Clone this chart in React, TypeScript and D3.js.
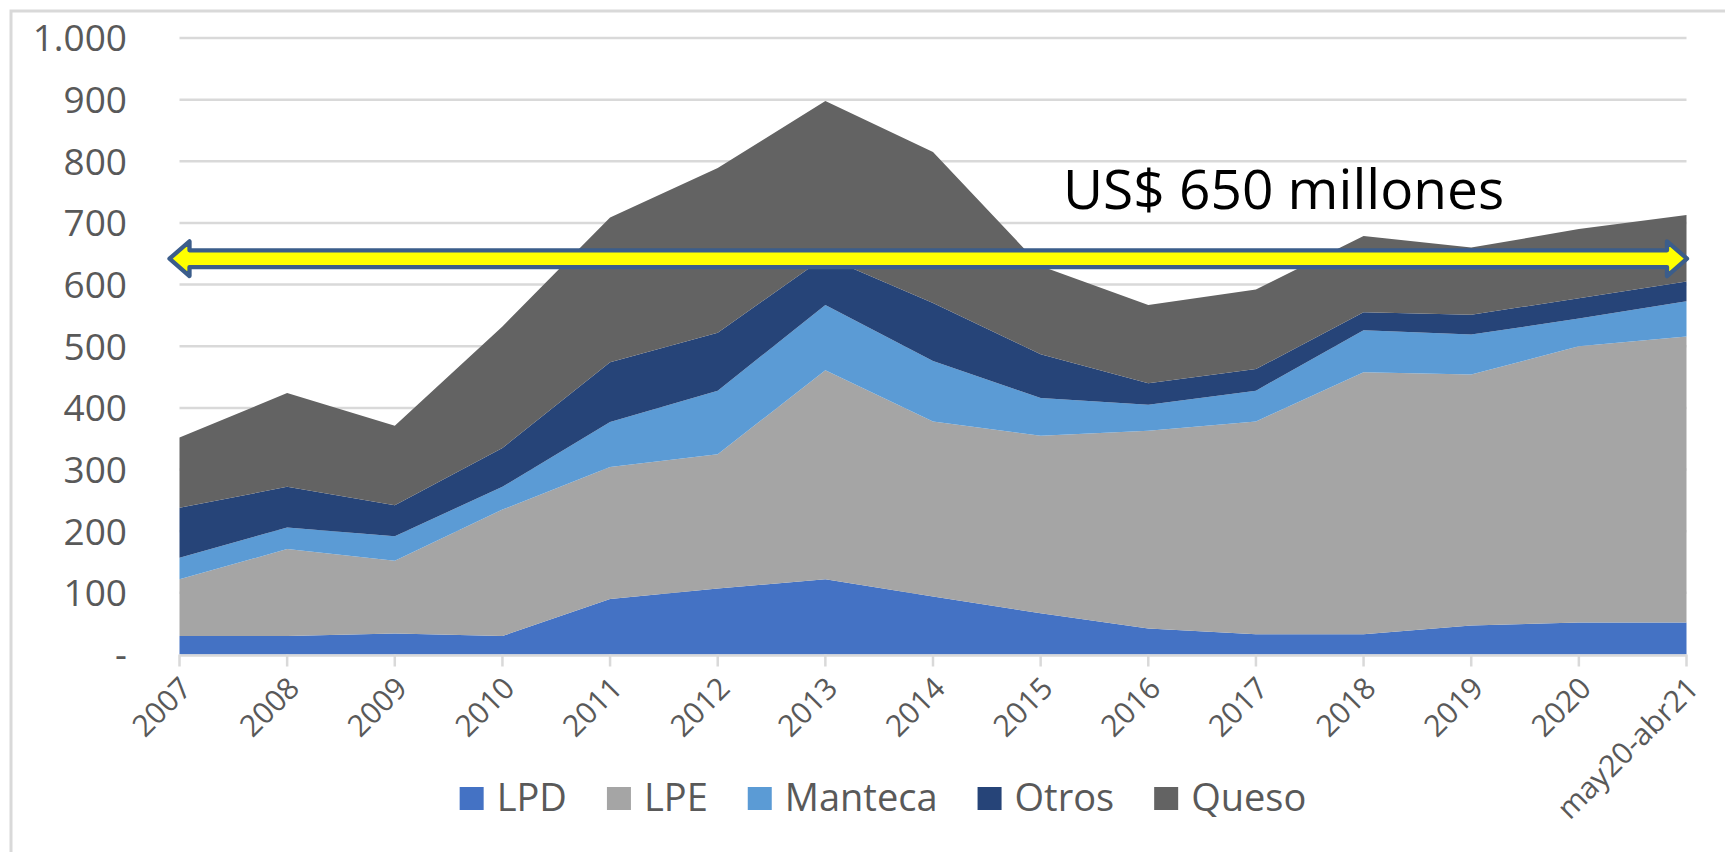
import React, { useEffect, useRef } from 'react';
import * as d3 from 'd3';

// categories (x axis)
const categories = [
  '2007', '2008', '2009', '2010', '2011', '2012', '2013', '2014',
  '2015', '2016', '2017', '2018', '2019', '2020', 'may20-abr21',
];

// series values, US$ millones (stacked)
const seriesNames = ['LPD', 'LPE', 'Manteca', 'Otros', 'Queso'];
const lpd = [30, 30, 34, 30, 90, 107, 122, 94, 67, 42, 33, 33, 47, 52, 52];
const lpe = [92, 141, 118, 205, 214, 218, 339, 284, 288, 321, 345, 425, 407, 448, 464];
const manteca = [35, 35, 40, 37, 73, 103, 106, 98, 61, 42, 50, 68, 65, 45, 57];
const otros = [81, 66, 50, 63, 97, 94, 78, 94, 71, 35, 35, 29, 32, 33, 32];
const queso = [114, 152, 129, 197, 235, 267, 253, 245, 143, 127, 129, 124, 109, 112, 108];
const colors = ['#4472c4', '#a5a5a5', '#5b9bd5', '#264478', '#636363'];

const yTicks = [0, 100, 200, 300, 400, 500, 600, 700, 800, 900, 1000];

// annotation
const annotationValue = 642;
const annotationText = 'US$ 650 millones';

const FONT = '"Open Sans", sans-serif';

export default function App() {
  const ref = useRef<SVGSVGElement>(null);

  useEffect(() => {
    const svg = d3.select(ref.current);
    svg.selectAll('*').remove();

    const x = d3.scalePoint<string>().domain(categories).range([179.5, 1686.5]);
    const y = d3.scaleLinear().domain([0, 1000]).range([654.5, 38]);
    const fmt = d3.formatLocale({ decimal: ',', thousands: '.', grouping: [3], currency: ['', ''] }).format(',');

    // outer frame
    svg.append('rect')
      .attr('x', 11).attr('y', 11)
      .attr('width', 1800).attr('height', 900)
      .attr('fill', 'none')
      .attr('stroke', '#d9d9d9')
      .attr('stroke-width', 3);

    // gridlines
    svg.append('g')
      .selectAll('line')
      .data(yTicks.filter(t => t > 0))
      .enter()
      .append('line')
      .attr('x1', x(categories[0])!)
      .attr('x2', x(categories[categories.length - 1])!)
      .attr('y1', d => y(d))
      .attr('y2', d => y(d))
      .attr('stroke', '#d9d9d9')
      .attr('stroke-width', 2.5);

    // y labels
    svg.append('g')
      .selectAll('text')
      .data(yTicks)
      .enter()
      .append('text')
      .attr('x', 127)
      .attr('y', d => y(d) + 13.3)
      .attr('text-anchor', 'end')
      .attr('font-family', FONT)
      .attr('font-size', 37)
      .attr('fill', '#595959')
      .text(d => (d === 0 ? '-' : fmt(d)));

    // stacked areas
    const rows = categories.map((c, i) => ({
      cat: c,
      LPD: lpd[i], LPE: lpe[i], Manteca: manteca[i], Otros: otros[i], Queso: queso[i],
    }));
    const stacked = d3.stack<any>().keys(seriesNames)(rows);
    const area = d3.area<any>()
      .x(d => x(d.data.cat)!)
      .y0(d => y(d[0]))
      .y1(d => y(d[1]));
    svg.append('g')
      .selectAll('path')
      .data(stacked)
      .enter()
      .append('path')
      .attr('fill', (d, i) => colors[i])
      .attr('d', area as any);

    // x axis line + ticks
    const y0 = y(0);
    svg.append('line')
      .attr('x1', x(categories[0])!)
      .attr('x2', x(categories[categories.length - 1])!)
      .attr('y1', y0 + 1).attr('y2', y0 + 1)
      .attr('stroke', '#d9d9d9')
      .attr('stroke-width', 2.5);
    svg.append('g')
      .selectAll('line')
      .data(categories)
      .enter()
      .append('line')
      .attr('x1', d => x(d)!)
      .attr('x2', d => x(d)!)
      .attr('y1', y0)
      .attr('y2', y0 + 12)
      .attr('stroke', '#d9d9d9')
      .attr('stroke-width', 2.5);

    // x labels, rotated
    svg.append('g')
      .selectAll('text')
      .data(categories)
      .enter()
      .append('text')
      .attr('transform', d => `translate(${x(d)! + 14}, 690) rotate(-45)`)
      .attr('text-anchor', 'end')
      .attr('font-family', FONT)
      .attr('font-size', 30)
      .attr('fill', '#595959')
      .text(d => d);

    // double arrow
    const ay = y(annotationValue);
    const xl = x(categories[0])! - 10;
    const xr = x(categories[categories.length - 1])! + 0.5;
    const sh = 8.4, hh = 17.4, hl = 20;
    const p = d3.path();
    p.moveTo(xl, ay);
    p.lineTo(xl + hl, ay - hh);
    p.lineTo(xl + hl, ay - sh);
    p.lineTo(xr - hl, ay - sh);
    p.lineTo(xr - hl, ay - hh);
    p.lineTo(xr, ay);
    p.lineTo(xr - hl, ay + hh);
    p.lineTo(xr - hl, ay + sh);
    p.lineTo(xl + hl, ay + sh);
    p.lineTo(xl + hl, ay + hh);
    p.closePath();
    svg.append('path')
      .attr('d', p.toString())
      .attr('fill', '#ffff00')
      .attr('stroke', '#3b5d8b')
      .attr('stroke-width', 4.3)
      .attr('stroke-linejoin', 'round');

    svg.append('text')
      .attr('x', 1063)
      .attr('y', 209)
      .attr('font-family', FONT)
      .attr('font-size', 55)
      .attr('fill', '#000')
      .text(annotationText);

    // legend
    const lg = svg.append('g');
    let cx = 0;
    seriesNames.forEach((name, i) => {
      lg.append('rect')
        .attr('x', cx).attr('y', 787)
        .attr('width', 24).attr('height', 23)
        .attr('fill', colors[i]);
      const t = lg.append('text')
        .attr('x', cx + 37)
        .attr('y', 811)
        .attr('font-family', FONT)
        .attr('font-size', 38)
        .attr('fill', '#595959')
        .text(name);
      const w = (t.node() as SVGTextElement).getComputedTextLength();
      cx = cx + 37 + w + (i < seriesNames.length - 1 ? 40 : 0);
    });
    lg.attr('transform', `translate(${883 - cx / 2}, 0)`);
  }, []);

  return (
    <svg
      ref={ref}
      width={1725}
      height={852}
      style={{ position: 'absolute', left: 0, top: 0, background: '#fff' }}
    />
  );
}
